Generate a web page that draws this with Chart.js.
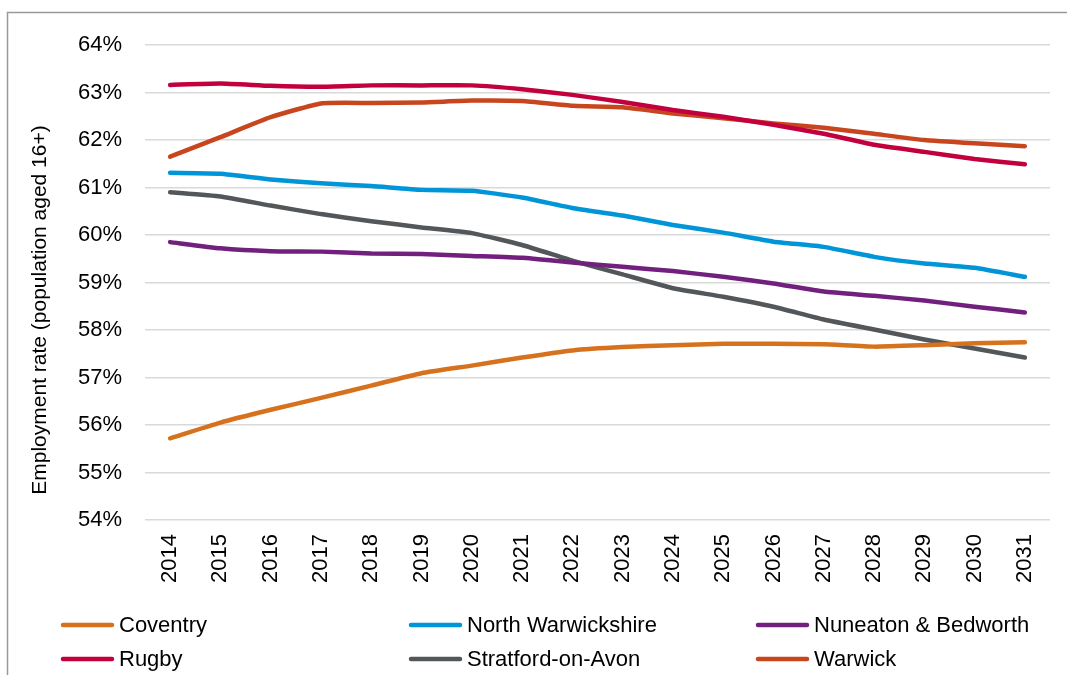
<!DOCTYPE html>
<html>
<head>
<meta charset="utf-8">
<script src="https://cdn.jsdelivr.net/npm/chart.js@4.4.0/dist/chart.umd.min.js"></script>
<style>
html,body{margin:0;padding:0;background:#fff;}
#wrap{width:1067px;height:675px;position:relative;}
</style>
</head>
<body>
<div id="wrap"><canvas id="c" width="1067" height="675"></canvas></div>
<script>
const years = ['2014','2015','2016','2017','2018','2019','2020','2021','2022','2023','2024','2025','2026','2027','2028','2029','2030','2031'];
const seriesNames = ['Coventry','North Warwickshire','Nuneaton & Bedworth','Rugby','Stratford-on-Avon','Warwick'];
const coventry = [55.72,56.05,56.32,56.57,56.83,57.09,57.25,57.42,57.57,57.64,57.68,57.71,57.71,57.70,57.65,57.68,57.72,57.74];
const northWarwickshire = [61.31,61.29,61.17,61.09,61.03,60.95,60.93,60.79,60.57,60.41,60.21,60.05,59.86,59.75,59.54,59.40,59.31,59.12];
const nuneatonBedworth = [59.85,59.72,59.66,59.65,59.61,59.60,59.56,59.52,59.42,59.33,59.24,59.12,58.98,58.81,58.72,58.62,58.49,58.37];
const rugby = [63.16,63.19,63.14,63.12,63.15,63.15,63.15,63.07,62.95,62.80,62.63,62.49,62.32,62.13,61.90,61.75,61.60,61.49];
const stratford = [60.90,60.81,60.62,60.44,60.29,60.16,60.04,59.79,59.46,59.17,58.88,58.70,58.49,58.22,58.01,57.80,57.61,57.42];
const warwick = [61.65,62.06,62.48,62.77,62.78,62.79,62.83,62.82,62.72,62.69,62.56,62.46,62.35,62.26,62.13,62.00,61.93,61.87];
const yTicks = [54,55,56,57,58,59,60,61,62,63,64];
const yTitle = 'Employment rate (population aged 16+)';

const colors = ['#D6711E','#0095D6','#71207E','#C2003D','#53575A','#C8461E'];
const values = [coventry, northWarwickshire, nuneatonBedworth, rugby, stratford, warwick];
const FONT = '"Liberation Sans", Arial, sans-serif';

const datasets = seriesNames.map((n,i)=>({
  label:n, data:values[i], borderColor:colors[i], backgroundColor:colors[i],
  borderWidth:4.5, pointRadius:0, pointHoverRadius:0, tension:0.15,
  borderCapStyle:'round', borderJoinStyle:'round', fill:false
}));

const extras = {
  id:'extras',
  afterDraw(chart){
    const ctx = chart.ctx;
    ctx.save();
    // outer frame
    ctx.strokeStyle = '#999999';
    ctx.lineWidth = 1.5;
    ctx.beginPath();
    ctx.moveTo(7.5, 700); ctx.lineTo(7.5, 12.5); ctx.lineTo(1100, 12.5);
    ctx.stroke();
    // y title
    ctx.fillStyle = '#000';
    ctx.font = '21px ' + FONT;
    ctx.translate(40, 310);
    ctx.rotate(-Math.PI/2);
    ctx.textAlign = 'center';
    ctx.textBaseline = 'middle';
    ctx.fillText(yTitle, 0, 0);
    ctx.restore();
    // legend
    ctx.save();
    const colX = [63, 411, 758];
    const rowY = [625, 659];
    ctx.font = '22px ' + FONT;
    ctx.textBaseline = 'middle';
    ctx.textAlign = 'left';
    chart.data.datasets.forEach((ds,i)=>{
      const x = colX[i%3], y = rowY[Math.floor(i/3)];
      ctx.strokeStyle = ds.borderColor;
      ctx.lineWidth = 4.5;
      ctx.lineCap = 'round';
      ctx.beginPath(); ctx.moveTo(x, y); ctx.lineTo(x+49, y); ctx.stroke();
      ctx.fillStyle = '#000';
      ctx.fillText(ds.label, x+56, y+1);
    });
    ctx.restore();
  }
};

new Chart(document.getElementById('c'), {
  type:'line',
  data:{labels:years, datasets},
  options:{
    responsive:false, animation:false,
    layout:{padding:{top:45,right:17,left:0,bottom:0}},
    plugins:{legend:{display:false}, tooltip:{enabled:false}},
    scales:{
      x:{
        type:'category', offset:true,
        grid:{display:false}, border:{display:false},
        ticks:{minRotation:90, maxRotation:90, padding:6, color:'#000', font:{family:FONT, size:22}, autoSkip:false},
        afterFit(s){ s.height = 155; }
      },
      y:{
        min:54, max:64,
        afterBuildTicks(s){ s.ticks = yTicks.map(v=>({value:v})); },
        grid:{color:'#D9D9D9', lineWidth:1.5, drawTicks:false},
        border:{display:false},
        ticks:{padding:23, color:'#000', font:{family:FONT, size:22}, callback:v=>v+'%'},
        afterFit(s){ s.width = 145; }
      }
    }
  },
  plugins:[extras]
});
</script>
</body>
</html>
